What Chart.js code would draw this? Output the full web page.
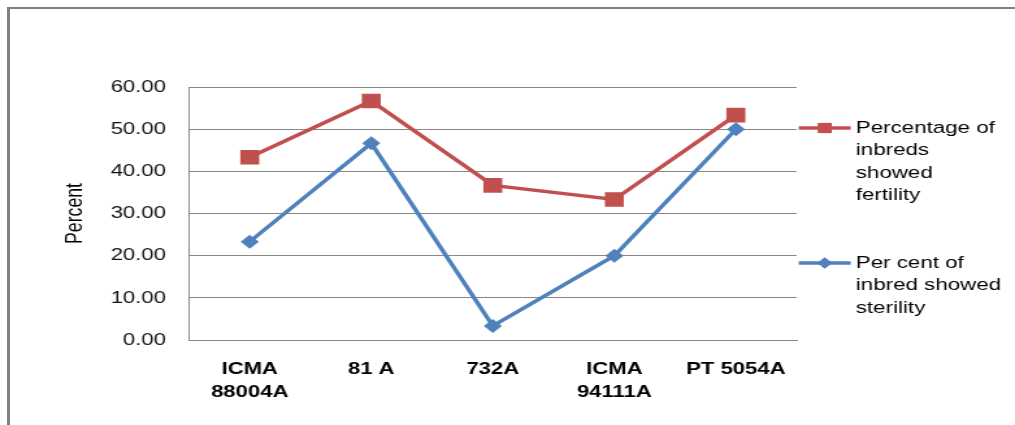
<!DOCTYPE html>
<html>
<head>
<meta charset="utf-8">
<script src="https://cdn.jsdelivr.net/npm/chart.js@4/dist/chart.umd.min.js"></script>
<style>
  html, body { margin: 0; padding: 0; background: #fff; overflow: hidden; }
  #frame { position: absolute; left: 7px; top: 7px; width: 1020px; height: 430px;
           border-left: 3px solid #808080; border-top: 2px solid #808080; }
  #wrap { position: absolute; left: 0; top: 0; width: 781px; height: 425px;
          transform: scaleX(1.2996); transform-origin: 0 0; }
  canvas { display: block; }
</style>
</head>
<body>
<div id="frame"></div>
<div id="wrap"><canvas id="c" width="781" height="425" style="width:781px;height:425px"></canvas></div>
<script>
const categories = [['ICMA', '88004A'], '81 A', '732A', ['ICMA', '94111A'], 'PT 5054A'];
const fertility = [43.33, 56.67, 36.67, 33.33, 53.33];
const sterility = [23.33, 46.67, 3.33, 20.00, 50.00];
const legendFertility = ['Percentage of', 'inbreds', 'showed', 'fertility'];
const legendSterility = ['Per cent of', 'inbred showed', 'sterility'];
const yMin = 0, yMax = 60, yStep = 10;
const yTitle = 'Percent';

const RED = '#C0504D';
const BLUE = '#4F81BD';
const GRID = '#878787';

const legendPlugin = {
  id: 'sideLegend',
  afterDraw(chart) {
    const ctx = chart.ctx;
    const area = chart.chartArea;
    const items = [
      { ds: chart.data.datasets[0], lines: legendFertility, dy: 41, style: 'rect', r: 7.5 },
      { ds: chart.data.datasets[1], lines: legendSterility, dy: 176, style: 'diamond', r: 5.8 }
    ];
    ctx.save();
    items.forEach(it => {
      const y = area.top + it.dy;
      const x0 = area.right + 1.6, x1 = area.right + 41.6, xm = area.right + 21.6;
      ctx.strokeStyle = it.ds.borderColor;
      ctx.lineWidth = 3.5;
      ctx.beginPath(); ctx.moveTo(x0, y); ctx.lineTo(x1, y); ctx.stroke();
      ctx.fillStyle = it.ds.pointBackgroundColor;
      ctx.beginPath();
      if (it.style === 'rect') {
        ctx.rect(xm - it.r * 0.72, y - it.r * 0.68, it.r * 1.44, it.r * 1.36);
      } else {
        ctx.moveTo(xm - it.r, y); ctx.lineTo(xm, y - it.r);
        ctx.lineTo(xm + it.r, y); ctx.lineTo(xm, y + it.r); ctx.closePath();
      }
      ctx.fill();
      ctx.fillStyle = '#000';
      ctx.font = '17.2px "Liberation Sans", Arial, sans-serif';
      ctx.textAlign = 'left';
      ctx.textBaseline = 'middle';
      it.lines.forEach((t, i) => ctx.fillText(t, area.right + 45.5, y + i * 22.5));
    });
    ctx.restore();
  }
};

new Chart(document.getElementById('c'), {
  type: 'line',
  data: {
    labels: categories,
    datasets: [
      {
        label: legendFertility.join(' '),
        data: fertility,
        borderColor: RED,
        backgroundColor: RED,
        pointBackgroundColor: RED,
        pointBorderColor: RED,
        pointStyle: 'rect',
        pointRadius: 10.3,
        pointBorderWidth: 0,
        borderWidth: 3.5,
        tension: 0,
        fill: false
      },
      {
        label: legendSterility.join(' '),
        data: sterility,
        borderColor: BLUE,
        backgroundColor: BLUE,
        pointBackgroundColor: BLUE,
        pointBorderColor: BLUE,
        pointStyle: 'rectRot',
        pointRadius: 7,
        pointBorderWidth: 0,
        borderWidth: 3.5,
        tension: 0,
        fill: false
      }
    ]
  },
  options: {
    responsive: false,
    animation: false,
    layout: { padding: { top: 87, right: 168, left: 0, bottom: 0 } },
    plugins: { legend: { display: false }, tooltip: { enabled: false } },
    scales: {
      x: {
        type: 'category',
        offset: true,
        grid: { display: false, drawTicks: false },
        border: { display: true, color: GRID, width: 1 },
        ticks: {
          color: '#000',
          padding: 17.5,
          maxRotation: 0,
          autoSkip: false,
          font: { family: '"Liberation Sans", Arial, sans-serif', size: 17, weight: 'bold', lineHeight: 23 / 17 }
        },
        afterFit(scale) { scale.height = 85; }
      },
      y: {
        min: yMin,
        max: yMax,
        grid: { color: GRID, lineWidth: 1, drawTicks: false },
        border: { display: true, color: GRID, width: 1 },
        ticks: {
          stepSize: yStep,
          color: '#111',
          padding: 17.7,
          font: { family: '"Liberation Sans", Arial, sans-serif', size: 17 },
          callback: v => Number(v).toFixed(2)
        },
        title: {
          display: true,
          text: yTitle,
          color: '#000',
          padding: { top: 47.9, bottom: 0 },
          font: { family: '"Liberation Sans", Arial, sans-serif', size: 17.7 }
        },
        afterFit(scale) { scale.width = 145.4; }
      }
    }
  },
  plugins: [legendPlugin]
});
</script>
</body>
</html>
